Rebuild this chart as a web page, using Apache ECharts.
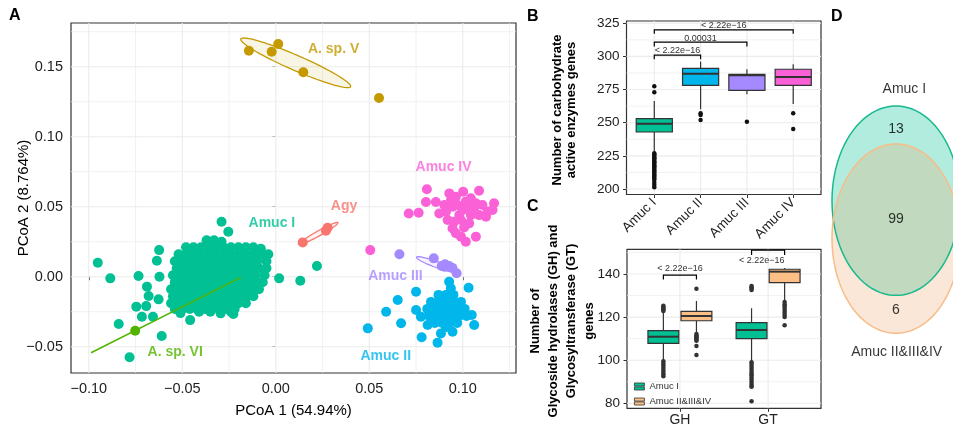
<!DOCTYPE html>
<html>
<head>
<meta charset="utf-8">
<script src="https://cdn.jsdelivr.net/npm/echarts@6/dist/echarts.min.js"></script>
<style>
  html, body { margin: 0; padding: 0; background: #fff; }
  #chart { width: 953px; height: 428px; }
</style>
</head>
<body>
<div id="chart"></div>
<script>
// ---------- panel A: PCoA ----------
var groupNames = ['Agy', 'A. sp. V', 'A. sp. VI', 'Amuc I', 'Amuc II', 'Amuc III', 'Amuc IV'];
var groupColors = ['#F8766D', '#C49A00', '#53B400', '#00C094', '#00B6EB', '#A58AFF', '#FB61D7'];

var agyPts = [[0.0144, 0.0245], [0.0268, 0.0329], [0.0277, 0.0350]];
var spVPts = [[-0.0144, 0.1614], [-0.0022, 0.1607], [0.0013, 0.1662], [0.0147, 0.1460], [0.0552, 0.1276]];
var spVIPts = [[-0.0752, -0.0386]];
var amucIPts = [
  [-0.0952, 0.0100], [-0.0885, -0.0012], [-0.0734, 0.0005], [-0.0624, 0.0190], [-0.0636, 0.0114],
  [-0.0622, 0.0000], [-0.0689, -0.0071], [-0.0680, -0.0138], [-0.0627, -0.0162], [-0.0746, -0.0214],
  [-0.0693, -0.0210], [-0.0716, -0.0286], [-0.0657, -0.0286], [-0.0840, -0.0338], [-0.0610, -0.0424],
  [-0.0782, -0.0576], [0.0018, -0.0012], [0.0131, -0.0029], [0.0220, 0.0076], [-0.0290, 0.0393],
  [-0.0254, 0.0321], [-0.0295, -0.0262], [-0.0227, -0.0267], [-0.0458, -0.0310],
  [-0.037, 0.026], [-0.033, 0.026], [-0.029, 0.025],
  [-0.048, 0.021], [-0.044, 0.021], [-0.040, 0.021], [-0.036, 0.021], [-0.032, 0.021], [-0.028, 0.021],
  [-0.024, 0.021], [-0.020, 0.021], [-0.016, 0.021], [-0.012, 0.021], [-0.008, 0.020],
  [-0.052, 0.016], [-0.048, 0.016], [-0.044, 0.016], [-0.040, 0.016], [-0.036, 0.016], [-0.032, 0.016],
  [-0.028, 0.016], [-0.024, 0.016], [-0.020, 0.016], [-0.016, 0.016], [-0.012, 0.016], [-0.008, 0.016], [-0.004, 0.016],
  [-0.054, 0.011], [-0.050, 0.011], [-0.046, 0.011], [-0.042, 0.011], [-0.038, 0.011], [-0.034, 0.011],
  [-0.030, 0.011], [-0.026, 0.011], [-0.022, 0.011], [-0.018, 0.011], [-0.014, 0.011], [-0.010, 0.011], [-0.005, 0.011],
  [-0.053, 0.006], [-0.049, 0.006], [-0.045, 0.006], [-0.041, 0.006], [-0.037, 0.006], [-0.033, 0.006],
  [-0.029, 0.006], [-0.025, 0.006], [-0.021, 0.006], [-0.017, 0.006], [-0.013, 0.006], [-0.009, 0.006], [-0.005, 0.006],
  [-0.055, 0.001], [-0.051, 0.001], [-0.047, 0.001], [-0.043, 0.001], [-0.039, 0.001], [-0.035, 0.001],
  [-0.031, 0.001], [-0.027, 0.001], [-0.023, 0.001], [-0.019, 0.001], [-0.015, 0.001], [-0.011, 0.001], [-0.006, 0.001],
  [-0.054, -0.004], [-0.050, -0.004], [-0.046, -0.004], [-0.042, -0.004], [-0.038, -0.004], [-0.034, -0.004],
  [-0.030, -0.004], [-0.026, -0.004], [-0.022, -0.004], [-0.018, -0.004], [-0.014, -0.004], [-0.010, -0.004], [-0.007, -0.004],
  [-0.056, -0.009], [-0.052, -0.009], [-0.048, -0.009], [-0.044, -0.009], [-0.040, -0.009], [-0.036, -0.009],
  [-0.032, -0.009], [-0.028, -0.009], [-0.024, -0.009], [-0.020, -0.009], [-0.016, -0.009], [-0.012, -0.009], [-0.009, -0.009],
  [-0.055, -0.014], [-0.051, -0.014], [-0.047, -0.014], [-0.043, -0.014], [-0.039, -0.014], [-0.035, -0.014],
  [-0.031, -0.014], [-0.027, -0.014], [-0.023, -0.014], [-0.019, -0.014], [-0.015, -0.014], [-0.012, -0.014],
  [-0.056, -0.019], [-0.052, -0.019], [-0.048, -0.019], [-0.044, -0.019], [-0.040, -0.019], [-0.036, -0.019],
  [-0.032, -0.019], [-0.028, -0.019], [-0.024, -0.019], [-0.020, -0.019], [-0.016, -0.019],
  [-0.054, -0.023], [-0.050, -0.023], [-0.046, -0.023], [-0.042, -0.023], [-0.038, -0.023], [-0.034, -0.023],
  [-0.030, -0.023], [-0.026, -0.023], [-0.022, -0.023],
  [-0.051, -0.026], [-0.041, -0.025], [-0.035, -0.025], [-0.024, -0.025]
];
var amucIIPts = [
  [0.0492, -0.0369], [0.0590, -0.0250], [0.0670, -0.0333], [0.0652, -0.0167], [0.0750, -0.0107],
  [0.0750, -0.0238], [0.0776, -0.0286], [0.0780, -0.0433], [0.0812, -0.0345], [0.0865, -0.0471],
  [0.0883, -0.0405], [0.0945, -0.0393], [0.1031, -0.0079], [0.1061, -0.0345], [0.1048, -0.0274],
  [0.0927, -0.0036], [0.0936, -0.0083],
  [0.087, -0.013], [0.091, -0.013], [0.095, -0.013],
  [0.083, -0.018], [0.087, -0.018], [0.091, -0.018], [0.095, -0.018], [0.099, -0.018],
  [0.081, -0.023], [0.085, -0.023], [0.089, -0.023], [0.093, -0.023], [0.097, -0.023], [0.101, -0.023],
  [0.082, -0.028], [0.086, -0.028], [0.090, -0.028], [0.094, -0.028], [0.098, -0.028], [0.102, -0.028],
  [0.085, -0.033], [0.089, -0.033], [0.093, -0.033], [0.097, -0.033], [0.091, -0.036]
];
var amucIIIPts = [[0.0661, 0.0160], [0.0845, 0.0131], [0.0887, 0.0076], [0.0905, 0.0088], [0.0927, 0.0076],
  [0.0945, 0.0062], [0.0967, 0.0024], [0.0901, 0.0071]];
var amucIVPts = [
  [0.0505, 0.0190], [0.0808, 0.0624], [0.0803, 0.0533], [0.0856, 0.0533], [0.0711, 0.0452], [0.0764, 0.0457],
  [0.0928, 0.0595], [0.0963, 0.0571], [0.1002, 0.0607], [0.1087, 0.0614], [0.1043, 0.0560], [0.1016, 0.0536],
  [0.1070, 0.0524], [0.1105, 0.0512], [0.1167, 0.0524], [0.1132, 0.0464], [0.1087, 0.0440], [0.1043, 0.0440],
  [0.0999, 0.0476], [0.0945, 0.0500], [0.0910, 0.0464], [0.0874, 0.0452], [0.0919, 0.0405], [0.0954, 0.0393],
  [0.0990, 0.0405], [0.0945, 0.0345], [0.0963, 0.0310], [0.0990, 0.0286], [0.1016, 0.0250], [0.1070, 0.0286],
  [0.1007, 0.0352], [0.1034, 0.0381], [0.0981, 0.0440], [0.1124, 0.0429], [0.1159, 0.0476], [0.1061, 0.0488],
  [0.0937, 0.0548], [0.0901, 0.0512], [0.0972, 0.0512], [0.1025, 0.0500]
];
var groupPts = [agyPts, spVPts, spVIPts, amucIPts, amucIIPts, amucIIIPts, amucIVPts];

// confidence ellipses: major axis end points (x1, y1, x2, y2)
var ellipseGroups = [1, 0, 5];
var ellipseTips = [[-0.0187, 0.1698, 0.0400, 0.1357], [0.0128, 0.0234, 0.0332, 0.0386], [0.0753, 0.0139, 0.0963, 0.0036]];
var spVILine = [[-0.0988, -0.0543], [-0.0187, -0.0005]];
var groupLabelPos = [[0.0365, 0.0507], [0.0309, 0.1624], [-0.0538, -0.0540], [-0.0021, 0.0386],
  [0.0588, -0.0566], [0.0640, 0.0005], [0.0897, 0.0781]];

var ticksAx = [-0.10, -0.05, 0, 0.05, 0.10];
var minorAx = [-0.075, -0.025, 0.025, 0.075, 0.125];
var ticksAy = [-0.05, 0, 0.05, 0.10, 0.15];
var minorAy = [-0.025, 0.025, 0.075, 0.125, 0.175];

// ---------- panel B: CAZyme counts ----------
var bCats = ['Amuc I', 'Amuc II', 'Amuc III', 'Amuc IV'];
var bColors = ['#00C094', '#00B6EB', '#A58AFF', '#FB61D7'];
// low whisker, q1, median, q3, high whisker
var bStats = [
  [228.2, 243.0, 249.3, 253.1, 266.4],
  [260.1, 278.2, 287.0, 291.0, 296.1],
  [271.4, 274.4, 285.8, 286.5, 290.3],
  [264.1, 278.2, 284.5, 290.3, 294.1]
];
var bOutliers = [
  [277.5, 272.9, 227, 226, 225, 224, 223, 222, 221, 220, 219, 218, 217, 216, 215, 214, 213, 212, 211, 210,
    209, 208, 206.8, 204.8, 203, 201.3],
  [257.1, 255.8, 252.1],
  [250.8],
  [257.1, 245.3]
];
var ticksBy = [200, 225, 250, 275, 300, 325];
var minorBy = [212.5, 237.5, 262.5, 287.5, 312.5];
// x1, x2, bar y, tip y, label x, label y
var bBrackets = [[1, 4, 320, 317, 2.5, 323], [1, 3, 310.7, 307.4, 2, 313.7], [1, 2, 300.9, 297.8, 1.5, 304.3]];
var bBracketText = ['< 2.22e\u221216', '0.00031', '< 2.22e\u221216'];

// ---------- panel C: GH / GT ----------
var cCats = ['GH', 'GT'];
var cGroups = ['Amuc I', 'Amuc II&III&IV'];
var cColors = ['#00C094', '#FDBF86'];
var cStats = [
  [[100.1, 107.8, 110.9, 113.7, 122.5], [112.4, 118.3, 120.5, 122.7, 127.5]],
  [[99.3, 110.0, 114.0, 117.4, 124.1], [127.2, 136.0, 141.1, 142.2, 142.8]]
];
var cOutliers = [
  [[122.8, 123.3, 123.8, 124.3, 124.8, 125.3, 99.5, 98.5, 97.5, 96.5, 95.5, 94.5, 93.5, 92.6],
   [133.2, 112.1, 111.5, 111, 110.5, 110, 109.5, 109, 106.6, 102.4]],
  [[132.6, 133.2, 133.8, 134.4, 99, 98, 97, 96, 95, 94, 93, 92, 91, 90, 89, 88, 87.7, 81],
   [127, 126, 125, 124, 123, 122, 121, 120, 116.2]]
];
var ticksCy = [80, 100, 120, 140];
var minorCy = [90, 110, 130, 150];
var cBrackets = [[0.8125, 1.1875, 139.5, 137.5, 1, 142.6], [1.8125, 2.1875, 151.1, 148.8, 1.928, 146.2]];
var cBracketText = ['< 2.22e\u221216', '< 2.22e\u221216'];

// ---------- panel D: Venn ----------
var vennSets = ['Amuc I', 'Amuc II&III&IV'];
var vennShapes = [[0, 0.2, 1, 1], [0, -0.2, 1, 1]];
var vennCounts = ['13', '99', '6'];
var vennCountPos = [[0, 0.954], [0, 0.003], [0, -0.954]];
var vennSetPos = [[0.13, 1.376], [0.01, -1.394]];

var FONT = '"Liberation Sans", Arial, Helvetica, sans-serif';
var DOT = 0.39, CBOX = 0.175, DODGE = 0.1875;

function gridData(xMajor, xMinor, yMajor, yMinor) {
  var d = [];
  xMinor.forEach(function (v) { d.push([0, v, 0]); });
  yMinor.forEach(function (v) { d.push([1, v, 0]); });
  xMajor.forEach(function (v) { d.push([0, v, 1]); });
  yMajor.forEach(function (v) { d.push([1, v, 1]); });
  return d;
}

function renderGridLine(params, api) {
  var cs = params.coordSys;
  var v = api.value(1);
  var style = { stroke: '#EBEBEB', lineWidth: api.value(2) ? 1.1 : 0.7 };
  if (api.value(0) === 0) {
    var x = api.coord([v, 0])[0];
    return { type: 'line', silent: true, shape: { x1: x, y1: cs.y, x2: x, y2: cs.y + cs.height }, style: style };
  }
  var y = api.coord([0, v])[1];
  return { type: 'line', silent: true, shape: { x1: cs.x, y1: y, x2: cs.x + cs.width, y2: y }, style: style };
}

function boxRenderer(halfW) {
  return function (params, api) {
    var x = api.value(0);
    var lo = api.coord([x, api.value(1)]);
    var q1 = api.coord([x - halfW, api.value(2)]);
    var mL = api.coord([x - halfW, api.value(3)]);
    var mR = api.coord([x + halfW, api.value(3)]);
    var q3 = api.coord([x + halfW, api.value(4)]);
    var hi = api.coord([x, api.value(5)]);
    var line = { stroke: '#333', lineWidth: 1.2 };
    return {
      type: 'group', children: [
        { type: 'line', shape: { x1: lo[0], y1: lo[1], x2: lo[0], y2: q1[1] }, style: line },
        { type: 'line', shape: { x1: hi[0], y1: q3[1], x2: hi[0], y2: hi[1] }, style: line },
        { type: 'rect', shape: { x: q1[0], y: q3[1], width: q3[0] - q1[0], height: q1[1] - q3[1] },
          style: { fill: api.visual('color'), stroke: '#333', lineWidth: 1.2 } },
        { type: 'line', shape: { x1: mL[0], y1: mL[1], x2: mR[0], y2: mR[1] }, style: { stroke: '#333', lineWidth: 2 } }
      ]
    };
  };
}

function bracketRenderer(texts) {
  return function (params, api) {
    var a = api.coord([api.value(0), api.value(3)]);
    var b = api.coord([api.value(0), api.value(2)]);
    var c = api.coord([api.value(1), api.value(2)]);
    var d = api.coord([api.value(1), api.value(3)]);
    var t = api.coord([api.value(4), api.value(5)]);
    return {
      type: 'group', children: [
        { type: 'polyline', shape: { points: [a, b, c, d] }, style: { stroke: '#000', lineWidth: 1.2, fill: null } },
        { type: 'text', x: t[0], y: t[1], style: { text: texts[params.dataIndex], fill: '#333', fontSize: 9,
          fontFamily: FONT, align: 'center', verticalAlign: 'middle', textAlign: 'center', textVerticalAlign: 'middle' } }
      ]
    };
  };
}

function ellipsePoints(cx, cy, a, b, t) {
  var pts = [];
  for (var i = 0; i < 90; i++) {
    var f = i / 90 * Math.PI * 2;
    pts.push([cx + a * Math.cos(f) * Math.cos(t) - b * Math.sin(f) * Math.sin(t),
              cy + a * Math.cos(f) * Math.sin(t) + b * Math.sin(f) * Math.cos(t)]);
  }
  return pts;
}

var ellipseHalfWidth = [7.5, 2.5, 3];
function renderEllipse(params, api) {
  var p1 = api.coord([api.value(0), api.value(1)]);
  var p2 = api.coord([api.value(2), api.value(3)]);
  var a = Math.sqrt(Math.pow(p2[0] - p1[0], 2) + Math.pow(p2[1] - p1[1], 2)) / 2;
  var t = Math.atan2(p2[1] - p1[1], p2[0] - p1[0]);
  var col = api.visual('color');
  return {
    type: 'polygon',
    shape: { points: ellipsePoints((p1[0] + p2[0]) / 2, (p1[1] + p2[1]) / 2, a, ellipseHalfWidth[params.dataIndex], t) },
    style: { fill: echarts.color.modifyAlpha(col, 0.1), stroke: col, lineWidth: 1.3 }
  };
}

var vennFill = ['rgba(0,192,148,0.3)', 'rgba(240,160,96,0.25)'];
var vennStroke = ['#18B98C', '#F6BD89'];
function vennRenderer(strokeOnly) {
  return function (params, api) {
    var c = api.coord([api.value(0), api.value(1)]);
    var s = api.size([api.value(2), api.value(3)]);
    var i = params.dataIndex;
    return {
      type: 'polygon',
      shape: { points: ellipsePoints(c[0], c[1], s[0], s[1], 0) },
      style: strokeOnly ? { fill: null, stroke: vennStroke[i], lineWidth: 1.5 } : { fill: vennFill[i] }
    };
  };
}

function fmtSigned(v) {
  return (v < 0 ? '\u2212' : '') + Math.abs(v).toFixed(2);
}

function valueAxis(idx, min, max, ticks, fmt, extra) {
  var ax = {
    type: 'value', gridIndex: idx, min: min, max: max,
    axisLine: { show: false },
    axisTick: { show: true, customValues: ticks, length: 3.5, lineStyle: { color: '#333', width: 1 } },
    axisLabel: { customValues: ticks, formatter: fmt, color: '#222', fontSize: 13.5, fontFamily: FONT, margin: 7 },
    splitLine: { show: false }
  };
  for (var k in extra) { ax[k] = extra[k]; }
  return ax;
}

var series = [];

// panel A
series.push({ type: 'custom', xAxisIndex: 0, yAxisIndex: 0, z: 1, silent: true,
  renderItem: renderGridLine, data: gridData(ticksAx, minorAx, ticksAy, minorAy) });
groupPts.forEach(function (pts, i) {
  series.push({ type: 'scatter', name: 'pcoa ' + groupNames[i], xAxisIndex: 0, yAxisIndex: 0, z: 3,
    symbolSize: 10, itemStyle: { color: groupColors[i], opacity: 1 }, data: pts });
});
series.push({ type: 'line', xAxisIndex: 0, yAxisIndex: 0, z: 4, symbol: 'none', data: spVILine,
  lineStyle: { color: groupColors[2], width: 1.5 } });
series.push({ type: 'custom', xAxisIndex: 0, yAxisIndex: 0, z: 4, renderItem: renderEllipse,
  data: ellipseTips.map(function (e, i) { return { value: e, itemStyle: { color: groupColors[ellipseGroups[i]] } }; }) });
series.push({ type: 'scatter', xAxisIndex: 0, yAxisIndex: 0, z: 5, symbolSize: 1, silent: true,
  itemStyle: { color: 'transparent' },
  label: { show: true, position: 'inside', formatter: '{b}', fontSize: 14, fontWeight: 'bold', fontFamily: FONT },
  data: groupLabelPos.map(function (p, i) {
    return { name: groupNames[i], value: p, label: { color: groupColors[i] } };
  }) });

// panel B
series.push({ type: 'custom', xAxisIndex: 1, yAxisIndex: 1, z: 1, silent: true,
  renderItem: renderGridLine, data: gridData([1, 2, 3, 4], [], ticksBy, minorBy) });
series.push({ type: 'custom', xAxisIndex: 1, yAxisIndex: 1, z: 3, renderItem: boxRenderer(DOT),
  data: bStats.map(function (s, i) { return { value: [i + 1].concat(s), itemStyle: { color: bColors[i] } }; }) });
var bOutPts = [];
bOutliers.forEach(function (vals, i) { vals.forEach(function (v) { bOutPts.push([i + 1, v]); }); });
series.push({ type: 'scatter', xAxisIndex: 1, yAxisIndex: 1, z: 4, symbolSize: 4.5,
  itemStyle: { color: '#111', opacity: 1 }, data: bOutPts });
series.push({ type: 'custom', xAxisIndex: 1, yAxisIndex: 1, z: 5, renderItem: bracketRenderer(bBracketText), data: bBrackets });

// panel C
series.push({ type: 'custom', xAxisIndex: 2, yAxisIndex: 2, z: 1, silent: true,
  renderItem: renderGridLine, data: gridData([1, 2], [], ticksCy, minorCy) });
cGroups.forEach(function (g, gi) {
  var off = gi === 0 ? -DODGE : DODGE;
  series.push({ type: 'custom', name: g, xAxisIndex: 2, yAxisIndex: 2, z: 3, renderItem: boxRenderer(CBOX),
    itemStyle: { color: cColors[gi] },
    data: cStats.map(function (s, ci) { return [ci + 1 + off].concat(s[gi]); }) });
  var pts = [];
  cOutliers.forEach(function (byGroup, ci) { byGroup[gi].forEach(function (v) { pts.push([ci + 1 + off, v]); }); });
  series.push({ type: 'scatter', xAxisIndex: 2, yAxisIndex: 2, z: 4, symbolSize: 4.5,
    itemStyle: { color: '#333', opacity: 1 }, data: pts });
});
series.push({ type: 'custom', xAxisIndex: 2, yAxisIndex: 2, z: 5, renderItem: bracketRenderer(cBracketText), data: cBrackets });

// panel D
series.push({ type: 'custom', xAxisIndex: 3, yAxisIndex: 3, z: 3, clip: false, renderItem: vennRenderer(false), data: vennShapes });
series.push({ type: 'custom', xAxisIndex: 3, yAxisIndex: 3, z: 4, clip: false, renderItem: vennRenderer(true), data: vennShapes });
series.push({ type: 'scatter', xAxisIndex: 3, yAxisIndex: 3, z: 5, clip: false, symbolSize: 1, silent: true,
  itemStyle: { color: 'transparent' },
  label: { show: true, position: 'inside', formatter: '{b}', color: '#000', fontSize: 14, fontFamily: FONT },
  data: vennCountPos.map(function (p, i) { return { name: vennCounts[i], value: p }; })
    .concat(vennSetPos.map(function (p, i) { return { name: vennSets[i], value: p }; })) });

var chart = echarts.init(document.getElementById('chart'), null, { renderer: 'canvas' });
chart.setOption({
  animation: false,
  backgroundColor: '#fff',
  textStyle: { fontFamily: FONT },
  grid: [
    { left: 71, top: 23, width: 445, height: 350, show: true, backgroundColor: '#fff', borderColor: '#333', borderWidth: 1.2, outerBoundsMode: 'none' },
    { left: 626.5, top: 21, width: 194.5, height: 173.5, show: true, backgroundColor: '#fff', borderColor: '#333', borderWidth: 1.2, outerBoundsMode: 'none' },
    { left: 627, top: 249.3, width: 194, height: 159, show: true, backgroundColor: '#fff', borderColor: '#333', borderWidth: 1.2, outerBoundsMode: 'none' },
    { left: 832, top: 106, width: 128, height: 227.3, show: false, outerBoundsMode: 'none' }
  ],
  xAxis: [
    valueAxis(0, -0.10952, 0.12845, ticksAx, fmtSigned, {
      name: 'PCoA 1 (54.94%)', nameLocation: 'middle', nameGap: 30, nameMoveOverlap: false,
      nameTextStyle: { fontSize: 15, color: '#000', fontFamily: FONT } }),
    valueAxis(1, 0.4, 4.6, [1, 2, 3, 4], function (v) { return bCats[v - 1]; }, {}),
    valueAxis(2, 0.4, 2.6, [1, 2], function (v) { return cCats[v - 1]; }, {}),
    { type: 'value', gridIndex: 3, min: -1, max: 1, show: false }
  ],
  yAxis: [
    valueAxis(0, -0.06879, 0.18121, ticksAy, fmtSigned, {
      name: 'PCoA 2 (8.764%)', nameLocation: 'middle', nameGap: 40, nameRotate: 90, nameMoveOverlap: false,
      nameTextStyle: { fontSize: 15, color: '#000', fontFamily: FONT } }),
    valueAxis(1, 195.85, 326.7, ticksBy, null, {}),
    valueAxis(2, 77.68, 151.46, ticksCy, null, {}),
    { type: 'value', gridIndex: 3, min: -1.2, max: 1.2, show: false }
  ],
  legend: {
    left: 634, top: 381.5, orient: 'vertical', padding: 0, itemWidth: 10, itemHeight: 7, itemGap: 5,
    selectedMode: false,
    textStyle: { fontSize: 9.5, color: '#333', fontFamily: FONT, padding: [0, 0, 0, 0] },
    data: cGroups.map(function (g, i) {
      return { name: g, icon: 'path://M0,0H10V3.1H0Z M0,3.9H10V7H0Z',
        itemStyle: { color: cColors[i], borderColor: '#333', borderWidth: 0.8 } };
    })
  },
  graphic: [
    { type: 'text', x: 9, y: 8, style: { text: 'A', fontSize: 16, fontWeight: 'bold', fontFamily: FONT, fill: '#000' } },
    { type: 'text', x: 527, y: 9, style: { text: 'B', fontSize: 16, fontWeight: 'bold', fontFamily: FONT, fill: '#000' } },
    { type: 'text', x: 527, y: 199, style: { text: 'C', fontSize: 16, fontWeight: 'bold', fontFamily: FONT, fill: '#000' } },
    { type: 'text', x: 831, y: 9, style: { text: 'D', fontSize: 16, fontWeight: 'bold', fontFamily: FONT, fill: '#000' } },
    { type: 'text', x: 564, y: 110, rotation: Math.PI / 2,
      style: { text: 'Number of carbohydrate\nactive enzymes genes', fontSize: 13, fontWeight: 'bold', fontFamily: FONT,
        fill: '#000', align: 'center', verticalAlign: 'middle', lineHeight: 14 } },
    { type: 'text', x: 562, y: 321, rotation: Math.PI / 2,
      style: { text: 'Number of\nGlycoside hydrolases (GH) and\nGlycosyltransferase (GT)\ngenes', fontSize: 13,
        fontWeight: 'bold', fontFamily: FONT, fill: '#000', align: 'center', verticalAlign: 'middle', lineHeight: 18 } }
  ],
  series: series
});
// label tweaks per panel
chart.setOption({
  xAxis: [{ axisLabel: { fontSize: 14.5, margin: 8 } }, { axisLabel: { rotate: 45, margin: 6 } },
    { axisLabel: { fontSize: 14, margin: 5 } }, {}],
  yAxis: [{ axisLabel: { fontSize: 14.5, margin: 8 } }, {}, {}, {}]
});
</script>
</body>
</html>
